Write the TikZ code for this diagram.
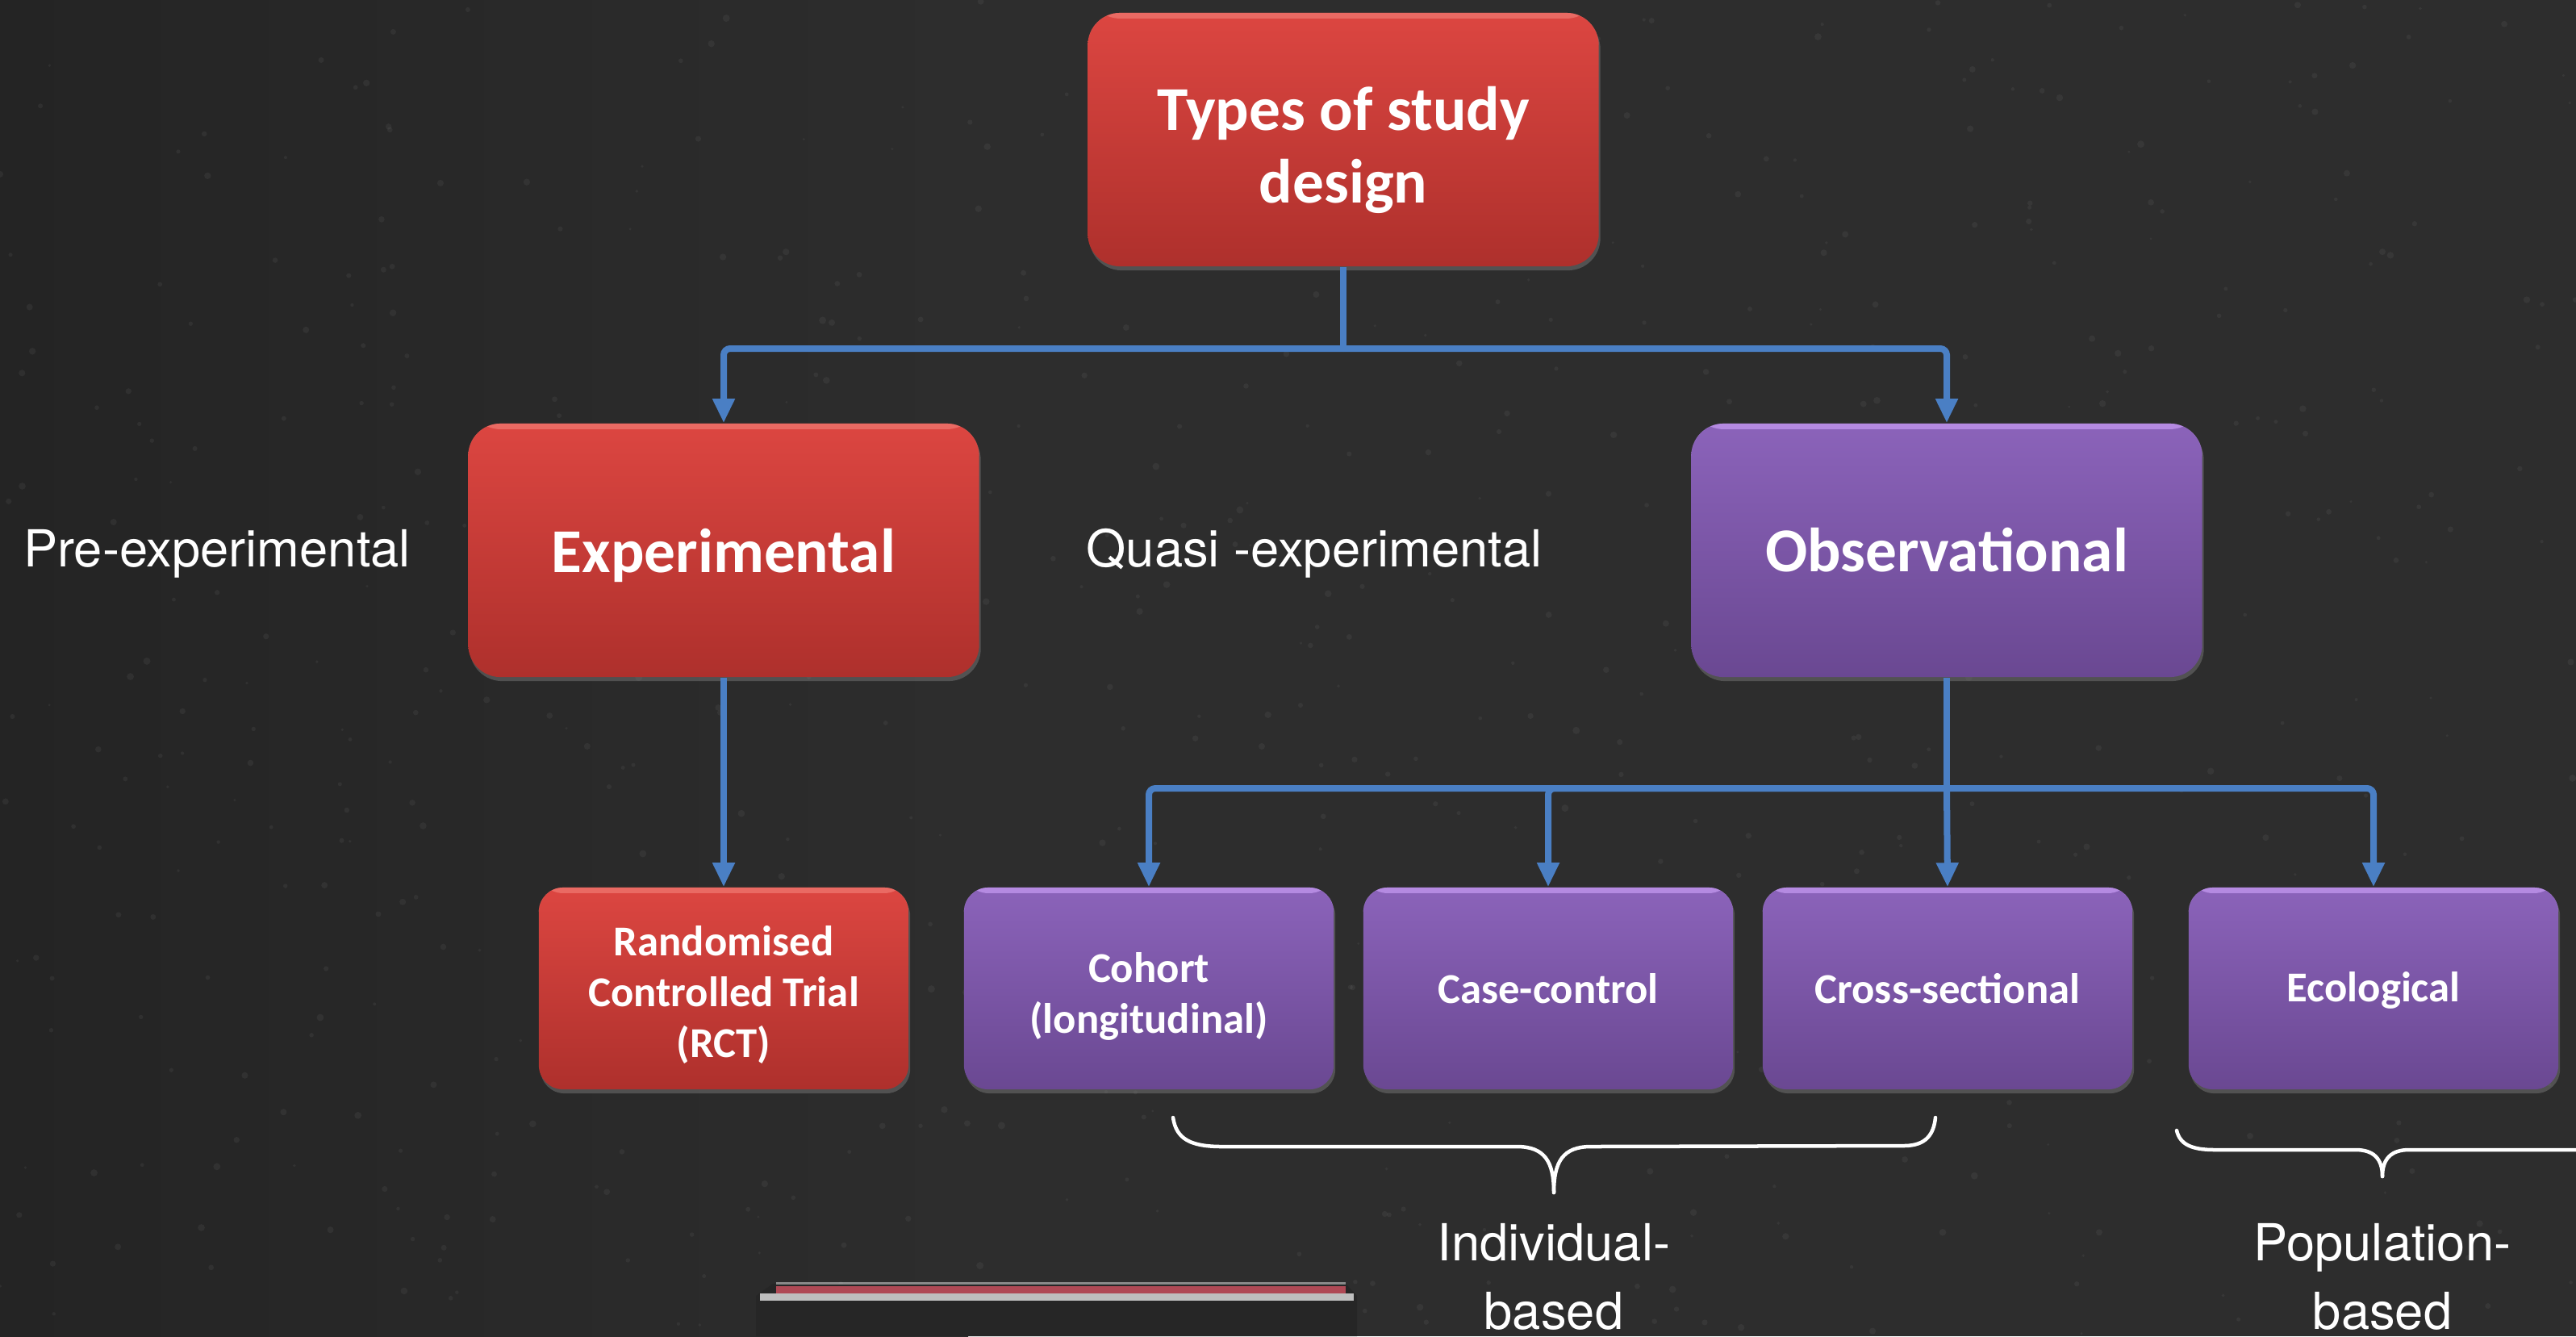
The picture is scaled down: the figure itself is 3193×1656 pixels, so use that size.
\documentclass[tikz,border=0pt]{standalone}
\usepackage{fontspec}
\setmainfont{Carlito}
\newfontfamily\labfont{TeX Gyre Heros}
\usetikzlibrary{arrows.meta,shadows}
\definecolor{board}{HTML}{2D2D2D}
\definecolor{boarddark}{HTML}{242424}
\definecolor{redtop}{HTML}{DC4641}
\definecolor{redbot}{HTML}{AE302C}
\definecolor{redhi}{HTML}{F07A72}
\definecolor{purtop}{HTML}{8B63BA}
\definecolor{purbot}{HTML}{6A4892}
\definecolor{purhi}{HTML}{C79BF2}
\definecolor{conncol}{HTML}{4A7FC4}
\definecolor{feltred}{HTML}{C8505E}
\tikzset{
  boxbase/.style={rounded corners=0.4cm, inner sep=0pt, align=center, text=white,
    drop shadow={shadow xshift=0.02cm, shadow yshift=-0.05cm, opacity=0.45}},
  redbox/.style={boxbase, top color=redtop, bottom color=redbot,
    path picture={\fill[redhi,opacity=.7] (path picture bounding box.north west) rectangle ([yshift=-0.07cm]path picture bounding box.north east);}},
  purbox/.style={boxbase, top color=purtop, bottom color=purbot,
    path picture={\fill[purhi,opacity=.7] (path picture bounding box.north west) rectangle ([yshift=-0.07cm]path picture bounding box.north east);}},
  bigsize/.style={minimum width=6.33cm, minimum height=3.14cm, font=\fontsize{22}{25.6}\selectfont\bfseries},
  smallsize/.style={minimum width=4.58cm, minimum height=2.5cm, rounded corners=0.3cm, font=\fontsize{15}{17.9}\selectfont\bfseries},
  labtext/.style={text=white, align=center, inner sep=0pt, font=\labfont\fontsize{18}{24.2}\selectfont},
  connline/.style={draw=conncol, line width=0.08cm, rounded corners=0.08cm},
  connarrow/.style={connline, -{Triangle[length=0.3cm, width=0.26cm]}},
  bracestyle/.style={draw=white, line width=0.045cm, line cap=round, line join=round}
}
\begin{document}
\begin{tikzpicture}[x=0.01cm, y=-0.01cm]
\useasboundingbox (0,0) rectangle (3193,1656);
% board
\shade[left color=boarddark, right color=board] (0,0) rectangle (1200,1656);
\fill[board] (1199,0) rectangle (3193,1656);
\pgfmathsetseed{7}
\foreach \i in {1,...,700} {
  \pgfmathsetmacro{\px}{rnd*3193}
  \pgfmathsetmacro{\py}{rnd*1656}
  \pgfmathsetmacro{\pr}{1.5+rnd*3}
  \fill[white,opacity=0.05] (\px,\py) circle (\pr);
}
% eraser
\fill[black!85] (937,1656) -- (937,1606) -- (958,1591) -- (1668,1591) -- (1682,1606) -- (1682,1656) -- cycle;
\draw[white,opacity=0.7,line width=0.09cm] (942,1607) -- (1678,1607);
\draw[feltred,opacity=0.85,line width=0.09cm] (962,1598) -- (1668,1598);
\draw[white,opacity=0.45,line width=0.03cm] (962,1590) -- (1668,1590);
% nodes
\node[redbox,bigsize] (top) at (1665,173) {\rule{0pt}{23pt}Types of study\\design};
\node[redbox,bigsize] (exp) at (897,682) {\rule{0pt}{19pt}Experimental};
\node[purbox,bigsize] (obs) at (2413,682) {Observational};
\node[redbox,smallsize] (rct) at (897,1225) {\rule{0pt}{15pt}Randomised\\Controlled Trial\\(RCT)};
\node[purbox,smallsize] (coh) at (1424,1225) {\rule{0pt}{16pt}Cohort\\(longitudinal)};
\node[purbox,smallsize] (cc) at (1919,1225) {Case-control};
\node[purbox,smallsize] (cs) at (2414,1225) {Cross-sectional};
\node[purbox,smallsize] (eco) at (2942,1225) {\rule{0pt}{12pt}Ecological};
% labels
\node[labtext] (pre) at (269,686) {Pre-experimental};
\node[labtext] (quasi) at (1629,686) {Quasi -experimental};
\node[labtext] (ind) at (1926,1582) {Individual-\\based};
\node[labtext] (pop) at (2953,1582) {Population-\\based};
% connectors
\coordinate (bus1) at (1665,432);
\coordinate (bus2) at (2413,977);
\draw[connline] (top.south) -- (bus1);
\draw[connarrow] (bus1) -| (exp.north);
\draw[connarrow] (bus1) -| (obs.north);
\draw[connarrow] (exp.south) -- (rct.north);
\draw[connline] (obs.south) -- (bus2);
\draw[connarrow] (bus2) -| (coh.north);
\draw[connarrow] (bus2) -| (cc.north);
\draw[connarrow] (bus2) -- (cs.north);
\draw[connarrow] (bus2) -| (eco.north);
% braces
\draw[bracestyle] (1454,1385) .. controls (1458,1412) and (1476,1421) .. (1515,1421)
  -- (1880,1421) .. controls (1915,1421) and (1926,1440) .. (1926,1478);
\draw[bracestyle] (1926,1478) .. controls (1926,1440) and (1937,1421) .. (1972,1421)
  -- (2360,1420) .. controls (2388,1420) and (2397,1405) .. (2399,1385);
\draw[bracestyle] (2698,1401) .. controls (2702,1418) and (2716,1425) .. (2745,1425)
  -- (2920,1425) .. controls (2942,1425) and (2953,1436) .. (2953,1458);
\draw[bracestyle] (2953,1458) .. controls (2953,1436) and (2964,1425) .. (2986,1425)
  -- (3193,1425);
\end{tikzpicture}
\end{document}
